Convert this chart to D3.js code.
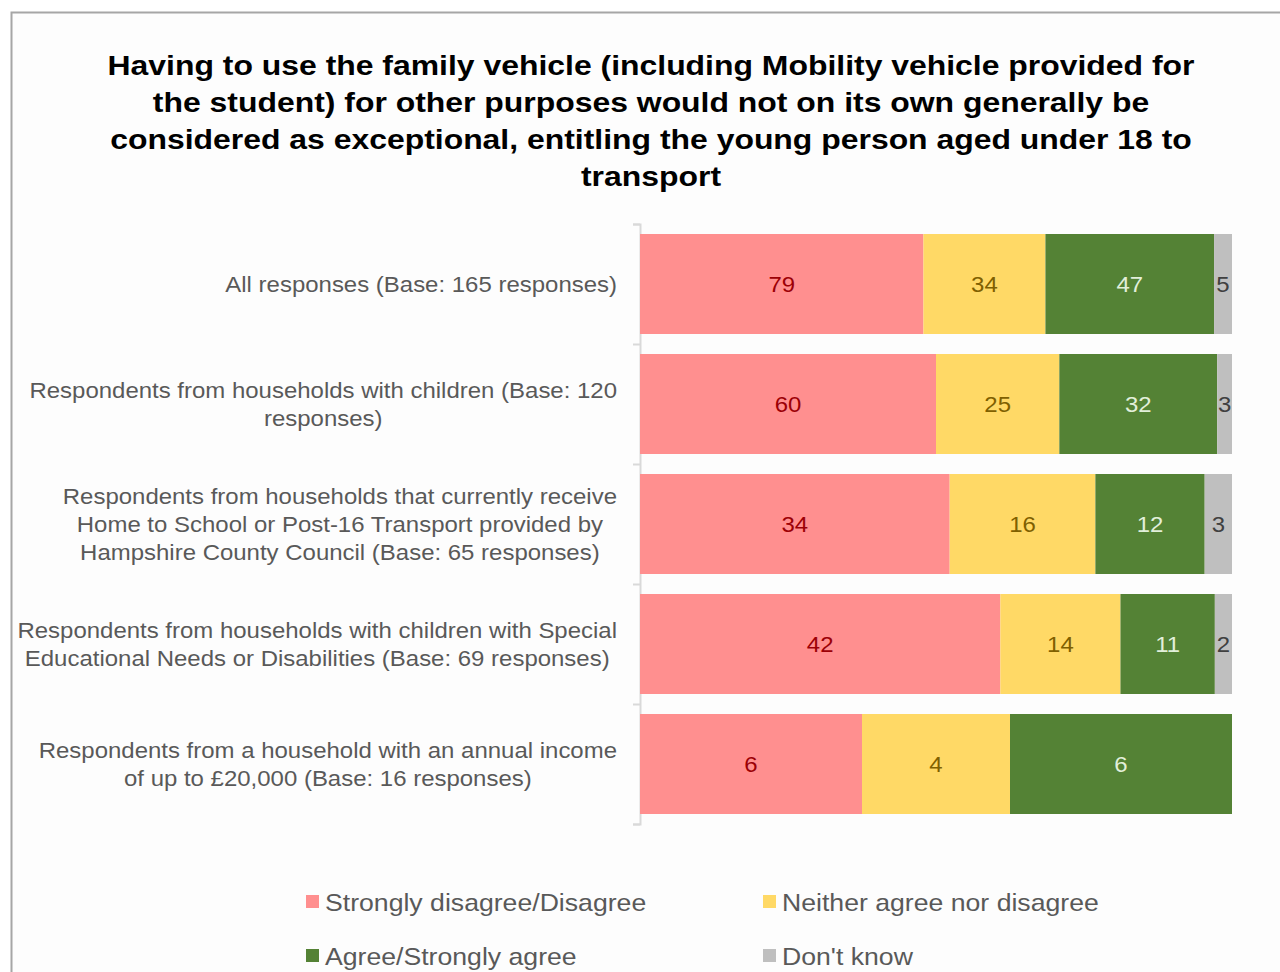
<!DOCTYPE html>
<html>
<head>
<meta charset="utf-8">
<script src="https://cdn.jsdelivr.net/npm/d3@7"></script>
<style>
  body { margin: 0; background: #fff; }
  svg { display: block; font-family: "Liberation Sans", Arial, sans-serif; }
</style>
</head>
<body>
<div id="chart"></div>
<script>
const titleLines = [
    "Having to use the family vehicle (including Mobility vehicle provided for",
    "the student) for other purposes would not on its own generally be",
    "considered as exceptional, entitling the young person aged under 18 to",
    "transport"
];

const categories = [
    ["All responses (Base: 165 responses)"],
    ["Respondents from households with children (Base: 120", "responses)"],
    ["Respondents from households that currently receive", "Home to School or Post-16 Transport provided by", "Hampshire County Council (Base: 65 responses)"],
    ["Respondents from households with children with Special", "Educational Needs or Disabilities (Base: 69 responses)"],
    ["Respondents from a household with an annual income", "of up to £20,000 (Base: 16 responses)"]
];

const seriesNames = ["Strongly disagree/Disagree", "Neither agree nor disagree", "Agree/Strongly agree", "Don't know"];
const disagree = [79, 60, 34, 42, 6];
const neither = [34, 25, 16, 14, 4];
const agree = [47, 32, 12, 11, 6];
const dontKnow = [5, 3, 3, 2, 0];

const fills = ["#ff8f8f", "#ffd966", "#548235", "#bfbfbf"];
const labelColors = ["#9c0006", "#7f6000", "#e2efda", "#404040"];

const width = 1280;
const height = 972;

const svg = d3.select("#chart").append("svg")
    .attr("width", width)
    .attr("height", height);

svg.append("rect")
    .attr("width", width).attr("height", height)
    .attr("fill", "#ffffff");

// outer frame
svg.append("rect")
    .attr("x", 11.5).attr("y", 12.5)
    .attr("width", 1320).attr("height", 1000)
    .attr("fill", "#fdfdfd")
    .attr("stroke", "#a6a6a6")
    .attr("stroke-width", 2);

// the source text is a little wider than Arial, so stretch it sideways
svg.append("g")
    .attr("transform", "translate(651,0) scale(1.14,1)")
    .selectAll("text")
    .data(titleLines)
    .enter().append("text")
    .attr("x", 0)
    .attr("y", (_, i) => 75 + i * 37)
    .attr("text-anchor", "middle")
    .attr("font-size", 28)
    .attr("font-weight", "bold")
    .attr("fill", "#000")
    .text(d => d);

const rows = categories.map((c, i) => ({
    idx: i,
    s0: disagree[i], s1: neither[i], s2: agree[i], s3: dontKnow[i]
}));

const stack = d3.stack()
    .keys(["s0", "s1", "s2", "s3"])
    .offset(d3.stackOffsetExpand);
const layers = stack(rows);

const x = d3.scaleLinear().domain([0, 1]).range([640, 1232]);
const y = d3.scaleBand()
    .domain(d3.range(categories.length))
    .range([224, 824])
    .paddingInner(20 / 120)
    .paddingOuter(10 / 120);
const yEdge = d3.scaleLinear().domain([0, categories.length]).range([224, 824]);

// axis with ticks at category boundaries
const axis = svg.append("g")
    .attr("transform", "translate(640,0)")
    .call(d3.axisLeft(yEdge).tickValues(d3.range(categories.length + 1)).tickSize(7).tickFormat(""));
axis.selectAll("path, line").attr("stroke", "#d9d9d9").attr("stroke-width", 2);

const g = svg.append("g");
layers.forEach((layer, k) => {
    g.append("g").selectAll("rect")
        .data(layer)
        .enter().append("rect")
        .attr("x", d => x(d[0]))
        .attr("y", d => y(d.data.idx))
        .attr("width", d => x(d[1]) - x(d[0]))
        .attr("height", y.bandwidth())
        .attr("fill", fills[k]);

    g.append("g").selectAll("text")
        .data(layer.filter(d => d.data["s" + k] > 0))
        .enter().append("text")
        .attr("transform", d => "translate(" + ((x(d[0]) + x(d[1])) / 2) + "," + (y(d.data.idx) + y.bandwidth() / 2 + 8) + ") scale(1.09,1)")
        .attr("text-anchor", "middle")
        .attr("font-size", 22)
        .attr("fill", labelColors[k])
        .text(d => d.data["s" + k]);
});

// category labels: centred block, right edge at 617
const lineH = 28;
const sxCat = 1.09;
categories.forEach((lines, i) => {
    const grp = svg.append("g")
        .attr("transform", "translate(617,0) scale(" + sxCat + ",1)");
    const texts = grp.selectAll("text")
        .data(lines)
        .enter().append("text")
        .attr("y", (_, j) => y(i) + y.bandwidth() / 2 + 8 + (j - (lines.length - 1) / 2) * lineH)
        .attr("text-anchor", "middle")
        .attr("font-size", 22)
        .attr("fill", "#595959")
        .text(d => d);
    let maxW = 0;
    texts.each(function () { maxW = Math.max(maxW, this.getComputedTextLength()); });
    texts.attr("x", -maxW / 2);
});

// legend
const legendPos = [[306, 902], [763, 902], [306, 956], [763, 956]];
const legend = svg.append("g").selectAll("g")
    .data(seriesNames)
    .enter().append("g")
    .attr("transform", (_, i) => "translate(" + legendPos[i][0] + "," + legendPos[i][1] + ")");
legend.append("rect")
    .attr("x", 0).attr("y", -7)
    .attr("width", 13).attr("height", 13)
    .attr("fill", (_, i) => fills[i]);
legend.append("text")
    .attr("transform", "translate(19,9) scale(1.11,1)")
    .attr("font-size", 24)
    .attr("fill", "#595959")
    .text(d => d);
</script>
</body>
</html>
